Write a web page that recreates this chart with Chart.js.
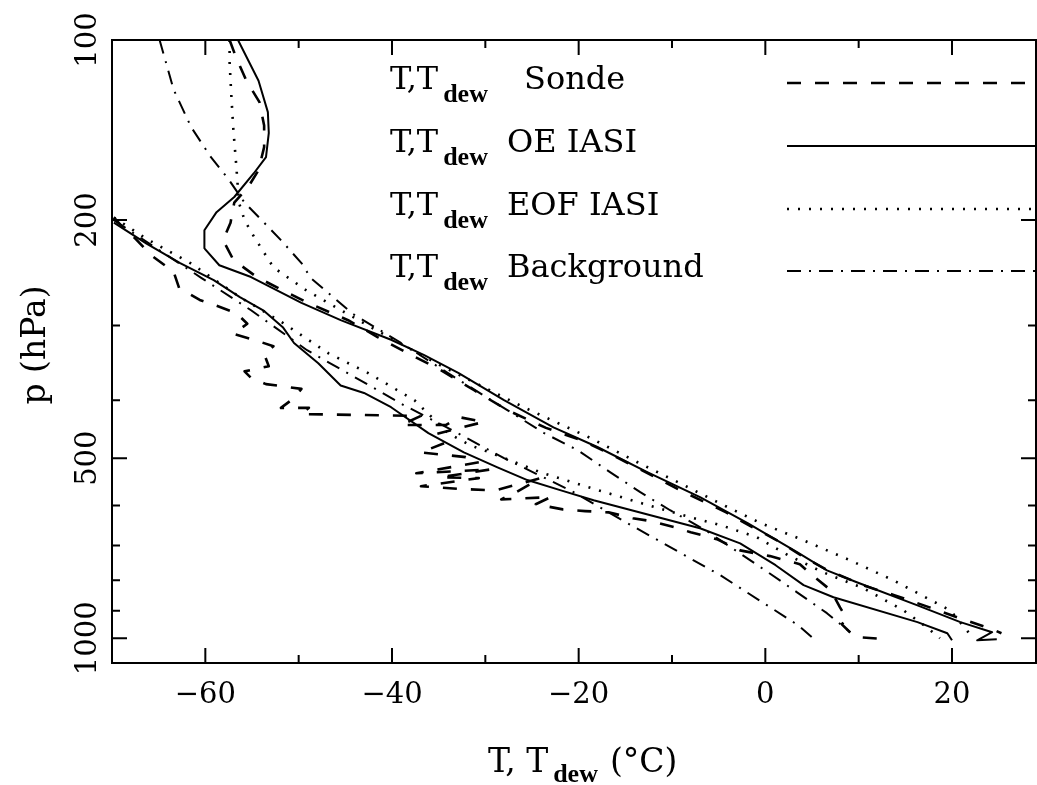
<!DOCTYPE html>
<html>
<head>
<meta charset="utf-8">
<script src="https://cdn.jsdelivr.net/npm/chart.js@4/dist/chart.umd.min.js"></script>
<style>
  html, body { margin: 0; padding: 0; background: #fff; }
</style>
</head>
<body>
<canvas id="profileChart" width="1037" height="785"></canvas>
<script>
// temperature (degC) and pressure (hPa), one pair of arrays per curve
var sondeTempT = [-57.4,-56.7,-55.6,-54.2,-53.7,-53.7,-54.3,-55.4,-56.9,-57.3,-58.1,-57.0,-54.5,-51.3,-49.0,-44.7,-41.5,-38.3,-34.8,-31.2,-27.6,-23.5,-19.5,-16.4,-13.2,-9.1,-4.2,-1.4,1.4,4.3,6.7,10.8,13.9,17.6,21.2,24.6,25.3];
var sondeTempP = [100,107,117,127,139,151,165,176,187,202,216,233,249,264,275,294,314,334,356,385,416,445,468,494,524,566,616,652,688,735,770,819,848,888,930,970,981];

var sondeDewT = [-69.8,-68.8,-67.6,-65.8,-63.4,-62.8,-60.6,-59.1,-56.7,-55.5,-57.0,-54.8,-52.7,-53.7,-53.2,-55.8,-55.1,-53.5,-49.7,-50.6,-51.9,-48.9,-49.7,-36.9,-39.0,-34.2,-32.8,-30.2,-35.3,-34.4,-36.9,-32.1,-30.7,-37.4,-33.2,-29.4,-34.8,-30.7,-36.9,-32.8,-28.9,-24.1,-26.7,-28.3,-23.0,-24.6,-21.7,-19.3,-16.8,-14.2,-12.3,-9.8,-8.0,-5.2,-2.7,0.5,3.7,5.3,7.0,8.0,8.7,8.2,9.3,9.9,13.0];
var sondeDewP = [198,206,214,229,244,260,272,277,286,298,310,317,325,335,351,358,367,376,383,398,412,412,422,425,440,440,427,435,456,472,489,498,508,530,526,522,538,540,557,563,566,540,570,586,581,597,609,613,616,630,637,652,665,683,713,729,752,791,831,888,926,948,985,996,1004];

var oeTempT = [-56.5,-54.3,-53.3,-53.2,-53.5,-54.8,-56.9,-58.8,-60.1,-60.1,-58.5,-55.1,-49.7,-45.5,-40.1,-36.6,-32.9,-28.0,-22.7,-18.0,-12.6,-7.0,-1.9,3.4,6.6,9.8,16.3,20.9,24.3,22.7,24.8];
var oeTempP = [100,117,132,143,157,167,183,194,208,223,238,249,275,294,317,336,360,400,444,479,528,581,642,718,770,806,881,940,977,1008,1004];

var oeDewT = [-69.8,-66.3,-62.7,-59.1,-56.3,-53.8,-51.7,-50.5,-47.9,-45.5,-43.0,-40.1,-36.1,-32.3,-28.7,-25.5,-21.9,-18.4,-12.3,-7.0,-2.7,1.1,4.1,7.3,16.3,19.5,20.0];
var oeDewP = [202,219,236,252,269,283,302,321,347,378,389,411,454,489,518,544,566,588,623,655,694,755,815,854,940,981,1008];

var eofTempT = [-57.4,-57.4,-57.2,-57.0,-56.7,-56.4,-55.8,-54.8,-52.7,-49.2,-42.6,-34.8,-25.9,-18.7,-13.7,-9.1,-4.5,-0.5,4.1,9.1,13.7,19.8,21.4,22.1];
var eofTempP = [100,109,125,141,161,187,200,213,240,262,300,350,411,463,508,551,599,642,686,741,800,898,962,992];

var eofDewT = [-69.8,-66.3,-61.6,-56.3,-51.7,-46.8,-42.6,-37.6,-34.0,-31.6,-29.4,-24.1,-19.0,-13.7,-8.8,-4.8,-0.9,2.4,6.2,10.5,14.8,17.3,18.7];
var eofDewP = [198,215,236,269,297,334,360,400,454,476,490,528,559,592,623,647,678,726,776,825,898,959,1000];

var bgTempT = [-64.9,-63.4,-61.5,-59.4,-57.5,-55.8,-53.7,-51.9,-49.7,-48.7,-44.2,-39.0,-33.7,-27.6,-23.7,-20.1,-16.6,-13.4,-10.2,-6.4,0.3,3.4,6.6,9.1];
var bgTempP = [100,121,140,157,171,187,202,216,236,250,287,321,363,416,454,485,528,570,611,660,776,838,908,977];

var bgDewT = [-69.8,-65.8,-60.4,-55.1,-49.1,-44.4,-38.7,-33.2,-28.0,-20.9,-13.8,-4.8,3.5,5.0];
var bgDewP = [200,220,250,283,330,363,408,452,500,566,655,785,951,996];

var legendLabels = ['Sonde', 'OE IASI', 'EOF IASI', 'Background'];
var legendGap = [2, 1, 1, 1];

var xMajorTicks = [-60, -40, -20, 0, 20];
var xTickLabels = ['\u221260', '\u221240', '\u221220', '0', '20'];
var xMinorTicks = [-50, -30, -10, 10];
var yMajorTicks = [100, 200, 500, 1000];
var yTickLabels = ['100', '200', '500', '1000'];
var yMinorTicks = [300, 400, 600, 700, 800, 900];

var FONT = '"DejaVu Serif"';
var SUBFONT = '"Liberation Serif"';

var styles = [
  {dash: [14, 14], width: 2.6},
  {dash: [], width: 2},
  {dash: [2, 9], width: 2.6},
  {dash: [14, 8, 2, 8], width: 2}
];

var toPoints = function(t, p){
  var pts = [];
  for(var i = 0; i < t.length; i++){
    pts.push({x: t[i], y: p[i]});
  }
  return pts;
};

var makeSet = function(t, p, s){
  return {
    data: toPoints(t, p),
    showLine: true,
    borderColor: '#000',
    backgroundColor: '#000',
    borderWidth: styles[s].width,
    borderDash: styles[s].dash,
    borderCapStyle: 'butt',
    borderJoinStyle: 'round',
    pointRadius: 0,
    tension: 0,
    fill: false
  };
};

// "T,T" + bold subscript "dew"; returns the x where the subscript ends
var drawTdew = function(ctx, x, y, size, sep, drop){
  ctx.font = size + 'px ' + FONT;
  ctx.fillText('T,' + sep + 'T', x, y);
  x += ctx.measureText('T,' + sep + 'T').width + 5;
  ctx.font = 'bold ' + Math.round(size * 0.8) + 'px ' + SUBFONT;
  ctx.fillText('dew', x, y + drop);
  return x + ctx.measureText('dew').width;
};

var frameAndText = {
  id: 'frameAndText',
  afterDatasetsDraw: function(chart){
    var ctx = chart.ctx;
    var a = chart.chartArea;
    var xs = chart.scales.x;
    var ys = chart.scales.y;
    ctx.save();
    ctx.strokeStyle = '#000';
    ctx.fillStyle = '#000';
    ctx.setLineDash([]);
    ctx.lineWidth = 2;
    ctx.strokeRect(a.left, a.top, a.right - a.left, a.bottom - a.top);

    ctx.beginPath();
    var tick = function(list, len){
      list.forEach(function(v){
        var x = xs.getPixelForValue(v);
        ctx.moveTo(x, a.bottom); ctx.lineTo(x, a.bottom - len);
        ctx.moveTo(x, a.top); ctx.lineTo(x, a.top + len);
      });
    };
    var ytick = function(list, len){
      list.forEach(function(v){
        var y = ys.getPixelForValue(v);
        ctx.moveTo(a.left, y); ctx.lineTo(a.left + len, y);
        ctx.moveTo(a.right, y); ctx.lineTo(a.right - len, y);
      });
    };
    tick(xMajorTicks, 15);
    tick(xMinorTicks, 8);
    ytick(yMajorTicks, 15);
    ytick(yMinorTicks, 8);
    ctx.stroke();

    // tick labels
    ctx.font = '29px ' + FONT;
    ctx.textAlign = 'center';
    ctx.textBaseline = 'middle';
    xMajorTicks.forEach(function(v, i){
      ctx.fillText(xTickLabels[i], xs.getPixelForValue(v), 695);
    });
    yMajorTicks.forEach(function(v, i){
      ctx.save();
      ctx.translate(88, ys.getPixelForValue(v));
      ctx.rotate(-Math.PI / 2);
      ctx.fillText(yTickLabels[i], 0, 0);
      ctx.restore();
    });

    // y title
    ctx.save();
    ctx.font = '33px ' + FONT;
    ctx.translate(36, 345);
    ctx.rotate(-Math.PI / 2);
    ctx.fillText('p (hPa)', 0, 0);
    ctx.restore();

    // x title
    ctx.textAlign = 'left';
    ctx.textBaseline = 'alphabetic';
    var ex = drawTdew(ctx, 488, 772, 33, ' ', 10);
    ctx.font = '33px ' + FONT;
    ctx.fillText('(\u00b0C)', ex + 12, 772);

    // legend
    var rowY = [89, 152, 215, 277];
    for(var i = 0; i < 4; i++){
      drawTdew(ctx, 390, rowY[i], 32, '', 13);
      ctx.font = '32px ' + FONT;
      ctx.fillText(legendLabels[i], 490 + 17 * legendGap[i], rowY[i]);
      ctx.beginPath();
      ctx.lineWidth = styles[i].width;
      ctx.setLineDash(styles[i].dash);
      ctx.lineCap = 'butt';
      ctx.moveTo(787, rowY[i] - 6);
      ctx.lineTo(a.right, rowY[i] - 6);
      ctx.stroke();
    }
    ctx.restore();
  }
};

var profileChart = new Chart(document.getElementById('profileChart').getContext('2d'), {
  type: 'scatter',
  data: {
    datasets: [
      makeSet(sondeTempT, sondeTempP, 0),
      makeSet(sondeDewT, sondeDewP, 0),
      makeSet(oeTempT, oeTempP, 1),
      makeSet(oeDewT, oeDewP, 1),
      makeSet(eofTempT, eofTempP, 2),
      makeSet(eofDewT, eofDewP, 2),
      makeSet(bgTempT, bgTempP, 3),
      makeSet(bgDewT, bgDewP, 3)
    ]
  },
  options: {
    responsive: false,
    animation: false,
    devicePixelRatio: 1,
    layout: {padding: {left: 0, right: 1, top: 40, bottom: 0}},
    plugins: {legend: {display: false}, tooltip: {enabled: false}},
    scales: {
      x: {
        type: 'linear', min: -70, max: 29,
        grid: {display: false}, border: {display: false},
        ticks: {display: false},
        afterFit: function(s){ s.height = 122; }
      },
      y: {
        type: 'logarithmic', reverse: true, min: 100, max: 1100,
        grid: {display: false}, border: {display: false},
        ticks: {display: false},
        afterFit: function(s){ s.width = 112; }
      }
    }
  },
  plugins: [frameAndText]
});
</script>
</body>
</html>
